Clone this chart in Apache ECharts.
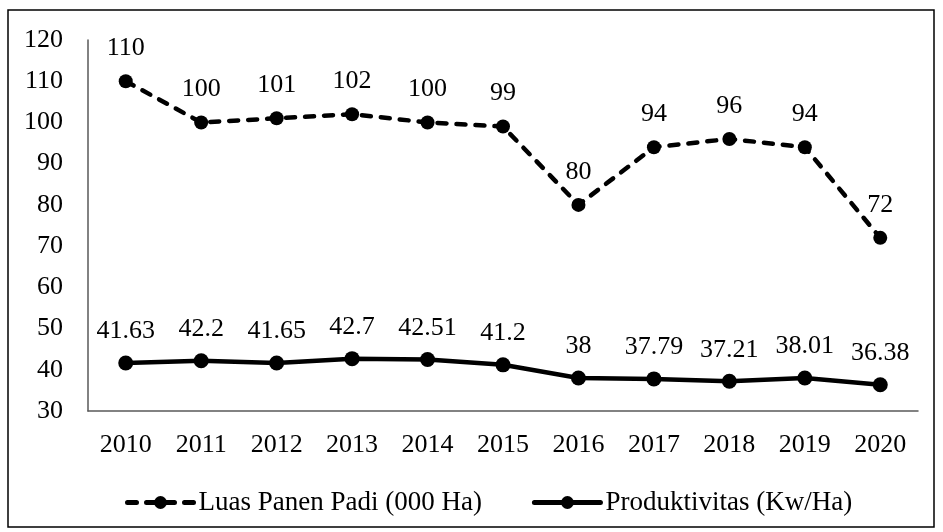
<!DOCTYPE html>
<html lang="id">
<head>
    <meta charset="UTF-8">
    <title>Luas Panen dan Produktivitas Padi</title>
    <script src="https://cdn.jsdelivr.net/npm/echarts@6/dist/echarts.min.js"></script>
    <style>
        html, body { margin: 0; padding: 0; background: #fff; }
        #chart { width: 943px; height: 532px; }
    </style>
</head>
<body>
<div id="chart"></div>
<script>
    // data
    var tahun = ['2010', '2011', '2012', '2013', '2014', '2015', '2016', '2017', '2018', '2019', '2020'];
    var luasPanen = [110, 100, 101, 102, 100, 99, 80, 94, 96, 94, 72];
    var produktivitas = [41.63, 42.2, 41.65, 42.7, 42.51, 41.2, 38, 37.79, 37.21, 38.01, 36.38];
    var namaSeri = ['Luas Panen Padi (000 Ha)', 'Produktivitas (Kw/Ha)'];

    var font = "'Liberation Serif', 'Times New Roman', serif";
    var fs = 26;
    var myChart = echarts.init(document.getElementById('chart'));

    var option = {
        backgroundColor: '#fff',
        animation: false,
        textStyle: { fontFamily: font, color: '#000' },
        graphic: [{
            type: 'rect',
            shape: { x: 8, y: 10, width: 926, height: 517 },
            style: { fill: 'none', stroke: '#000', lineWidth: 1.5 },
            silent: true
        }],
        grid: { left: 88, right: 25, top: 40, bottom: 121 },
        legend: {
            left: 120,
            top: 484,
            itemWidth: 66,
            itemHeight: 16,
            itemGap: 50,
            lineStyle: { width: 5 },
            textStyle: { fontFamily: font, fontSize: 27, color: '#000' },
            data: namaSeri
        },
        xAxis: {
            type: 'category',
            data: tahun,
            axisLine: { lineStyle: { color: '#595959', width: 1.5 } },
            axisTick: { show: false },
            axisLabel: { fontFamily: font, fontSize: fs, color: '#000', margin: 21 }
        },
        yAxis: {
            type: 'value',
            min: 30,
            max: 120,
            interval: 10,
            splitLine: { show: false },
            axisLine: { show: true, lineStyle: { color: '#595959', width: 1.5 } },
            axisTick: { show: false },
            axisLabel: { fontFamily: font, fontSize: fs, color: '#000', margin: 25 }
        },
        series: [
            {
                name: namaSeri[0],
                type: 'line',
                data: luasPanen,
                symbol: 'circle',
                symbolSize: 14,
                itemStyle: { color: '#000' },
                lineStyle: { color: '#000', width: 4.5, type: [9, 10], cap: 'round' },
                label: {
                    show: true,
                    position: 'top',
                    distance: 13,
                    fontFamily: font,
                    fontSize: fs,
                    color: '#000'
                }
            },
            {
                name: namaSeri[1],
                type: 'line',
                data: produktivitas,
                symbol: 'circle',
                symbolSize: 15,
                itemStyle: { color: '#000' },
                lineStyle: { color: '#000', width: 4.5, cap: 'round' },
                label: {
                    show: true,
                    position: 'top',
                    distance: 11,
                    fontFamily: font,
                    fontSize: fs,
                    color: '#000'
                }
            }
        ]
    };
    myChart.setOption(option);
</script>
</body>
</html>
